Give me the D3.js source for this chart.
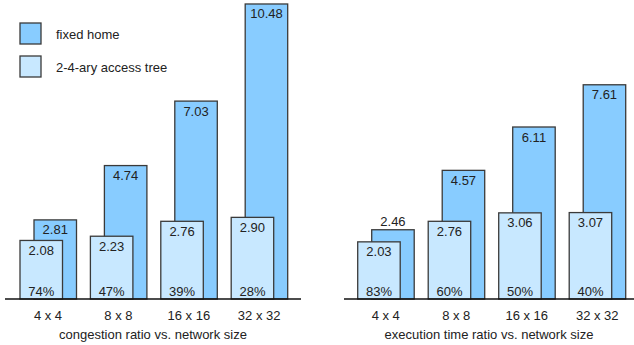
<!DOCTYPE html>
<html>
<head>
<meta charset="utf-8">
<script src="https://cdn.jsdelivr.net/npm/d3@7"></script>
<style>
  html, body { margin: 0; padding: 0; background: #fff; }
  svg { display: block; }
  text { font-family: "Liberation Sans", Arial, Helvetica, sans-serif; fill: #222; }
</style>
</head>
<body>
<svg id="chart" width="634" height="345"></svg>
<script>
// Network sizes shared by both panels
const categories = ["4 x 4", "8 x 8", "16 x 16", "32 x 32"];

// Congestion ratio
const congestionFixedHome = [2.81, 4.74, 7.03, 10.48];
const congestionAccessTree = [2.08, 2.23, 2.76, 2.90];
const congestionPercent = ["74%", "47%", "39%", "28%"];

// Execution time ratio
const execFixedHome = [2.46, 4.57, 6.11, 7.61];
const execAccessTree = [2.03, 2.76, 3.06, 3.07];
const execPercent = ["83%", "60%", "50%", "40%"];

const seriesNames = ["fixed home", "2-4-ary access tree"];
const colors = { fixed: "#88ccff", tree: "#c8e8ff", stroke: "#3a3a3a" };

const svg = d3.select("#chart");
const baseline = 299;
const y = d3.scaleLinear().domain([0, 10.5]).range([baseline, baseline - 10.5 * 28.15]);

const barW = 42.5, shift = 14;

function panel(opts) {
  const x = d3.scaleBand()
    .domain(categories)
    .range(opts.range)
    .paddingInner(0.2045)
    .paddingOuter(0.1023);

  const g = svg.append("g");
  const data = categories.map((c, i) => ({
    c, hi: opts.fixed[i], lo: opts.tree[i], pct: opts.pct[i]
  }));

  // fixed home bars (behind)
  g.selectAll("rect.fixed").data(data).join("rect")
    .attr("class", "fixed")
    .attr("x", d => x(d.c) + shift)
    .attr("y", d => y(d.hi))
    .attr("width", barW)
    .attr("height", d => baseline - y(d.hi))
    .attr("fill", colors.fixed)
    .attr("stroke", colors.stroke)
    .attr("stroke-width", 1.3);

  // access tree bars (in front)
  g.selectAll("rect.tree").data(data).join("rect")
    .attr("class", "tree")
    .attr("x", d => x(d.c))
    .attr("y", d => y(d.lo))
    .attr("width", barW)
    .attr("height", d => baseline - y(d.lo))
    .attr("fill", colors.tree)
    .attr("stroke", colors.stroke)
    .attr("stroke-width", 1.3);

  // value labels on fixed home bars: inside when there is room, else above
  g.selectAll("text.fixedLbl").data(data).join("text")
    .attr("x", d => x(d.c) + shift + barW / 2)
    .attr("y", d => (y(d.lo) - y(d.hi) > 16) ? y(d.hi) + 14.5 : y(d.hi) - 4)
    .attr("text-anchor", "middle")
    .attr("font-size", 13)
    .text(d => d.hi.toFixed(2));

  // value labels on access tree bars
  g.selectAll("text.treeLbl").data(data).join("text")
    .attr("x", d => x(d.c) + barW / 2)
    .attr("y", d => y(d.lo) + 14.5)
    .attr("text-anchor", "middle")
    .attr("font-size", 13)
    .text(d => d.lo.toFixed(2));

  // percentage labels
  g.selectAll("text.pct").data(data).join("text")
    .attr("x", d => x(d.c) + barW / 2)
    .attr("y", baseline - 3)
    .attr("text-anchor", "middle")
    .attr("font-size", 13)
    .text(d => d.pct);

  // baseline
  g.append("line")
    .attr("x1", opts.axis[0]).attr("x2", opts.axis[1])
    .attr("y1", baseline).attr("y2", baseline)
    .attr("stroke", "#111").attr("stroke-width", 1.3);

  // category labels
  const axis = d3.axisBottom(x).tickSize(0).tickPadding(12);
  const ag = g.append("g").attr("transform", `translate(0,${baseline})`).call(axis);
  ag.select(".domain").remove();
  ag.selectAll("text")
    .attr("font-size", 13)
    .attr("font-family", "Liberation Sans, Arial, sans-serif")
    .attr("fill", "#222");

  // panel title
  g.append("text")
    .attr("x", (opts.axis[0] + opts.axis[1]) / 2)
    .attr("y", 339)
    .attr("text-anchor", "middle")
    .attr("font-size", 13)
    .text(opts.title);
}

panel({
  range: [12.8, 294.4], axis: [5, 301],
  fixed: congestionFixedHome, tree: congestionAccessTree, pct: congestionPercent,
  title: "congestion ratio vs. network size"
});

panel({
  range: [350.5, 632.5], axis: [344, 634],
  fixed: execFixedHome, tree: execAccessTree, pct: execPercent,
  title: "execution time ratio vs. network size"
});

// legend
const legend = svg.append("g");
seriesNames.forEach((name, i) => {
  const ly = 23 + i * 33;
  legend.append("rect")
    .attr("x", 20).attr("y", ly)
    .attr("width", 21).attr("height", 21)
    .attr("fill", i === 0 ? colors.fixed : colors.tree)
    .attr("stroke", colors.stroke).attr("stroke-width", 1.3);
  legend.append("text")
    .attr("x", 56).attr("y", ly + 16)
    .attr("font-size", 13)
    .text(name);
});
</script>
</body>
</html>
